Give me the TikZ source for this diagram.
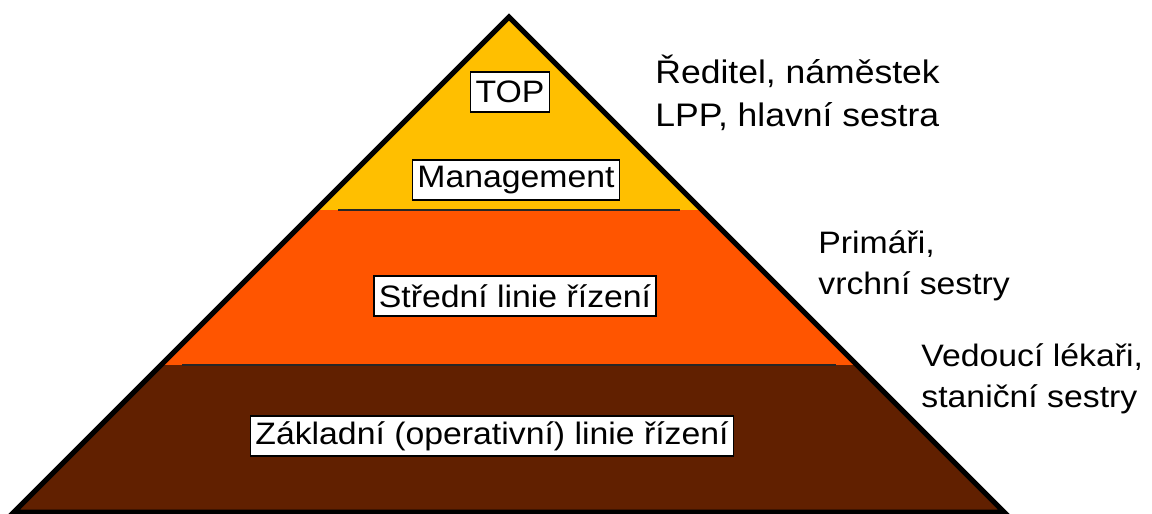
\documentclass[tikz,border=0pt]{standalone}
\usepackage{fontspec}
\setmainfont[FakeStretch=1.09]{Liberation Sans}
\definecolor{tiertop}{HTML}{FFBF00}
\definecolor{tiermid}{HTML}{FF5500}
\definecolor{tierlow}{HTML}{612000}
\begin{document}
\begin{tikzpicture}[x=0.5pt,y=-0.5pt,
  levelbox/.style={draw=black, line width=0.7pt, fill=white,
    font=\fontsize{15.5}{18}\selectfont, inner xsep=2.5pt, inner ysep=0pt,
    minimum height=20pt},
  rolelabel/.style={font=\fontsize{15.5}{20.5}\selectfont, align=left,
    anchor=base west, inner sep=0pt},
  tierline/.style={line width=1pt, black!85}]
\useasboundingbox (0,0) rectangle (1152,514);

% pyramid corners and tier boundaries
\coordinate (apex) at (509,17);
\coordinate (bl) at (14,512);
\coordinate (br) at (1004,512);
\coordinate (al) at (316,210);
\coordinate (ar) at (702,210);
\coordinate (bml) at (161,365);
\coordinate (bmr) at (857,365);

% tiers
\fill[tiertop] (apex) -- (al) -- (ar) -- cycle;
\fill[tiermid] (al) -- (bml) -- (bmr) -- (ar) -- cycle;
\fill[tierlow] (bml) -- (bl) -- (br) -- (bmr) -- cycle;

% dividing lines
\coordinate (s1l) at (338,210);
\coordinate (s1r) at (680,210);
\coordinate (s2l) at (182,365);
\coordinate (s2r) at (836,365);
\draw[tierline] (s1l) -- (s1r);
\draw[tierline] (s2l) -- (s2r);

% outline
\draw[line width=2.5pt, line join=miter] (bl) -- (apex) -- (br) -- cycle;

% tier names
\node[levelbox] (top) at (510,92) {TOP};
\node[levelbox] (mgmt) at (516,180) {Management};
\node[levelbox] (mid) at (515,296) {Střední linie řízení};
\node[levelbox] (low) at (492,436) {Základní (operativní) linie řízení};

% roles (anchored at the baseline of the last line)
\node[rolelabel, font=\fontsize{16.3}{21}\selectfont] (r1) at (655,126) {Ředitel, náměstek\\LPP, hlavní sestra};
\node[rolelabel] (r2) at (818,294) {Primáři,\\vrchní sestry};
\node[rolelabel] (r3) at (921,407) {Vedoucí lékaři,\\staniční sestry};
\end{tikzpicture}
\end{document}
